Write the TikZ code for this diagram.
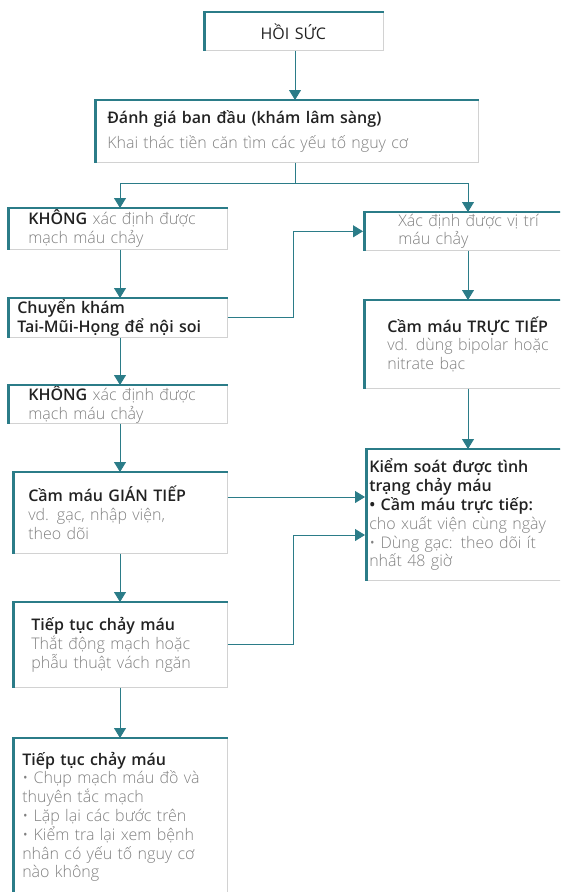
\documentclass[tikz,border=0pt]{standalone}
\usepackage{fontspec}
\setmainfont{Open Sans}
\IfFontExistsTF{Open Sans SemiBold}{\newfontfamily\dam{Open Sans SemiBold}}{%
  \IfFontExistsTF{Open Sans Semibold}{\newfontfamily\dam{Open Sans Semibold}}{%
    \newfontfamily\dam{Open Sans}}}
\IfFontExistsTF{Open Sans Light}{\newfontfamily\nhat{Open Sans Light}}{%
  \newfontfamily\nhat{Open Sans}}
\usetikzlibrary{arrows.meta}

\definecolor{xanhket}{HTML}{2B7C88}
\definecolor{chudam}{HTML}{222222}
\definecolor{chunhat}{HTML}{808080}
\newcommand{\phu}[1]{{\nhat\color{chunhat}#1}}
\newcommand{\tde}[1]{{\dam#1}}

\begin{document}
\begin{tikzpicture}[x=1pt, y=-1pt,
  khung/.style={draw=gray!35, line width=0.6pt, anchor=north west, align=left,
    font=\fontsize{16}{18.8}\selectfont, text=chudam, inner ysep=0pt},
  noi/.style={draw=xanhket, line width=0.9pt},
  muiten/.style={noi, -{Triangle[width=12pt,length=10pt]}}]

  \useasboundingbox (0,0) rectangle (560,892);
  \clip (0,0) rectangle (560,892);

  % --- axis lines for the two columns ---
  \coordinate (trucT) at (120,0);
  \coordinate (trucP) at (468,0);
  \coordinate (giua) at (295,0);
  \coordinate (tach) at (295,183);
  \coordinate (re) at (293,0);
  \coordinate (r1) at (0,497);
  \coordinate (r2) at (293,535);

  % --- boxes ---
  \node[khung, minimum width=180, minimum height=38, text width=180, inner xsep=0, align=center]
    (b1) at (203,12) {HỒI SỨC};
  \node[khung, minimum width=384, minimum height=62, text width=358, inner xsep=13]
    (b2) at (94,100) {\tde{Đánh giá ban đầu (khám lâm sàng)}\\[6pt]\phu{Khai thác tiền căn tìm các yếu tố nguy cơ}};
  \node[khung, minimum width=220, minimum height=41, text width=178, inner xsep=21]
    (b3) at (7,208) {\tde{KHÔNG} \phu{xác định được}\\\phu{mạch máu chảy}};
  \node[khung, minimum width=220, minimum height=39, text width=200, inner xsep=10]
    (b4) at (7,298) {\tde{Chuyển khám}\\\tde{Tai-Mũi-Họng để nội soi}};
  \node[khung, minimum width=220, minimum height=38, text width=178, inner xsep=21]
    (b7) at (7,385) {\tde{KHÔNG} \phu{xác định được}\\\phu{mạch máu chảy}};
  \node[khung, minimum width=215, minimum height=81, text width=183, inner xsep=16]
    (b8) at (12,472) {\tde{Cầm máu GIÁN TIẾP}\\\phu{vd. gạc, nhập viện,}\\\phu{theo dõi}};
  \node[khung, minimum width=215, minimum height=85, text width=177, inner xsep=19]
    (b10) at (12,602) {\tde{Tiếp tục chảy máu}\\\phu{Thắt động mạch hoặc}\\\phu{phẫu thuật vách ngăn}};
  \node[khung, minimum width=215, minimum height=172, text width=195, inner xsep=10]
    (b11) at (12,738) {\tde{Tiếp tục chảy máu}\\\phu{• Chụp mạch máu đồ và}\\\phu{thuyên tắc mạch}\\
      \phu{• Lặp lại các bước trên}\\\phu{• Kiểm tra lại xem bệnh}\\\phu{nhân có yếu tố nguy cơ}\\
      \phu{nào không}\\\mbox{}};

  \node[khung, minimum width=210, minimum height=38, text width=200, inner xsep=35]
    (b5) at (363,212) {\phu{Xác định được vị trí}\\\phu{máu chảy}};
  \node[khung, minimum width=210, minimum height=88, text width=190, inner xsep=24]
    (b6) at (363,300) {\tde{Cầm máu TRỰC TIẾP}\\\phu{vd. dùng bipolar hoặc}\\\phu{nitrate bạc}};
  \node[khung, minimum width=208, minimum height=131, text width=205, inner xsep=4]
    (b9) at (365,449) {\tde{Kiểm soát được tình}\\\tde{trạng chảy máu}\\\tde{• Cầm máu trực tiếp:}\\
      \phu{cho xuất viện cùng ngày}\\\phu{• Dùng gạc: theo dõi ít}\\\phu{nhất 48 giờ}};

  % --- teal top and left edges ---
  \foreach \n in {b1,b2,b3,b4,b5,b6,b7,b8,b9,b10,b11} {
    \draw[xanhket, line width=1.6pt] (\n.north west) -- (\n.north east);
    \draw[xanhket, line width=3pt] ([xshift=1.5pt]\n.south west) -- ([xshift=1.5pt]\n.north west);
  }

  % --- connectors ---
  \draw[muiten] (b1.south -| giua) -- (b2.north -| giua);
  \draw[noi] (b2.south -| giua) -- (tach);
  \draw[noi] (tach -| trucT) -- (tach -| trucP);
  \draw[muiten] (tach -| trucT) -- (b3.north -| trucT);
  \draw[muiten] (tach -| trucP) -- (b5.north -| trucP);

  \draw[muiten] (b3.south -| trucT) -- (b4.north -| trucT);
  \draw[muiten] (b4.south -| trucT) -- (b7.north -| trucT);
  \draw[muiten] (b7.south -| trucT) -- (b8.north -| trucT);
  \draw[muiten] (b8.south -| trucT) -- (b10.north -| trucT);
  \draw[muiten] (b10.south -| trucT) -- (b11.north -| trucT);

  \draw[muiten] (b5.south -| trucP) -- (b6.north -| trucP);
  \draw[muiten] (b6.south -| trucP) -- (b9.north -| trucP);

  \draw[muiten] (b4.east) -| (re |- b5.west) -- (b5.west);
  \draw[muiten] (b8.east |- r1) -- (b9.west |- r1);
  \draw[muiten] (b10.east) -| (r2) -- (b9.west |- r2);

\end{tikzpicture}
\end{document}
